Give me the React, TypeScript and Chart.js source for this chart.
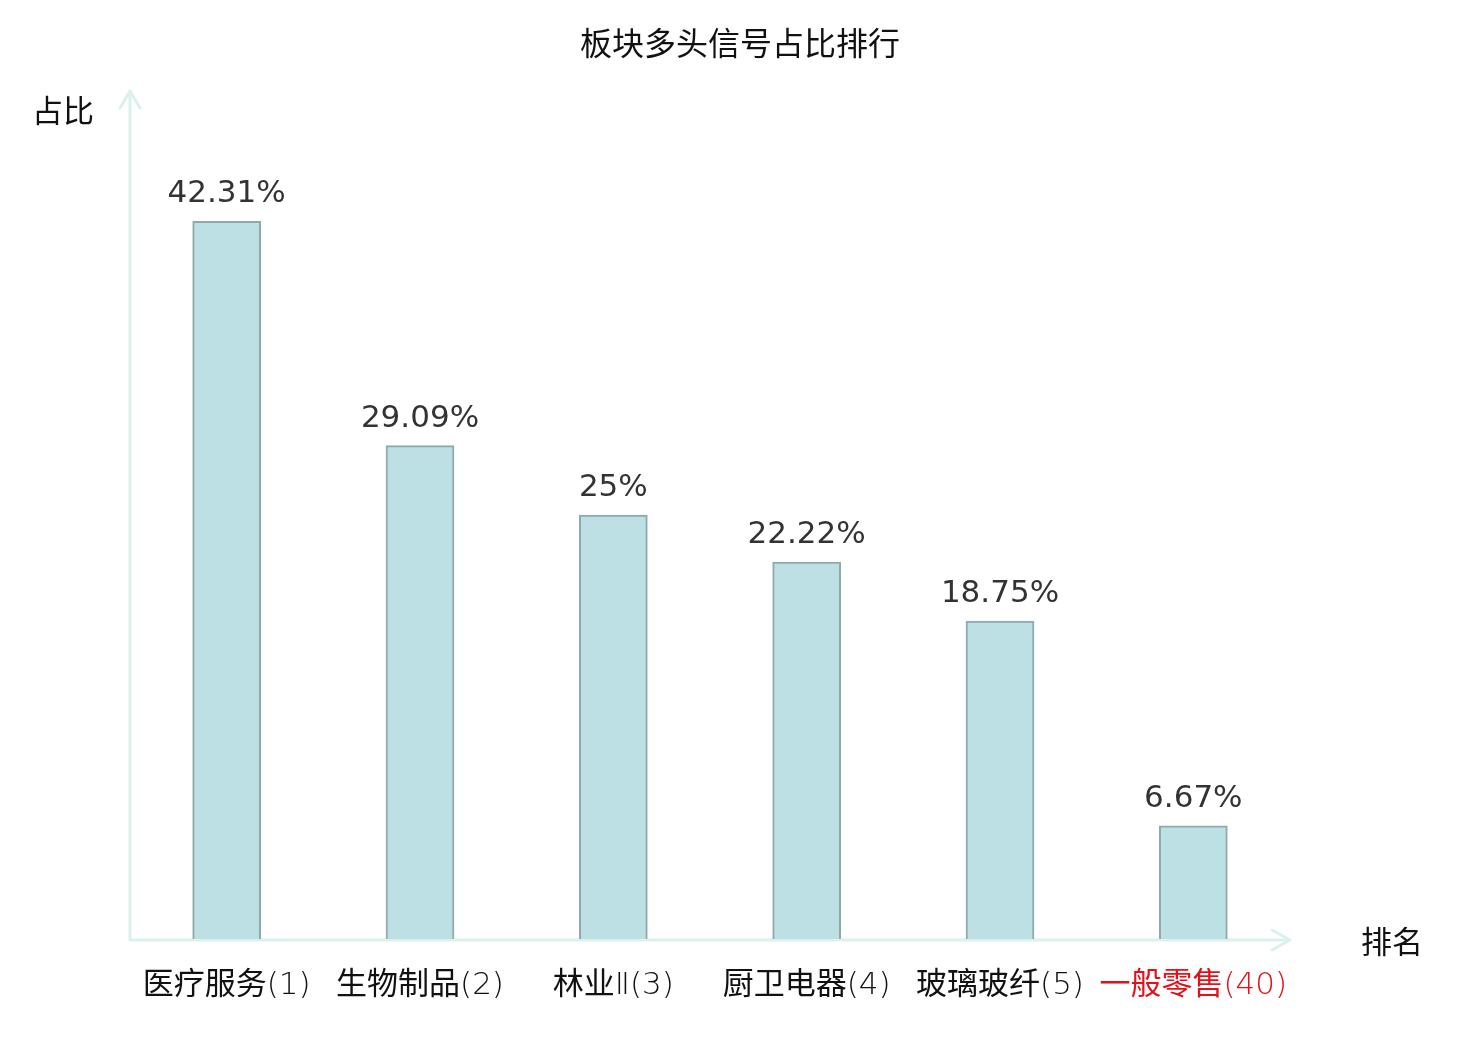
import React, { useEffect, useRef } from "react";
import { Chart, registerables } from "chart.js";

Chart.register(...registerables);

const TITLE = "板块多头信号占比排行";
const Y_NAME = "占比";
const X_NAME = "排名";
const categories = ["医疗服务(1)", "生物制品(2)", "林业Ⅱ(3)", "厨卫电器(4)", "玻璃玻纤(5)", "一般零售(40)"];
const values = [42.31, 29.09, 25, 22.22, 18.75, 6.67];
const valueLabels = ["42.31%", "29.09%", "25%", "22.22%", "18.75%", "6.67%"];
const highlighted = [false, false, false, false, false, true];
const Y_MIN = 0;
const Y_MAX = 50;

const AXIS_COLOR = "#dcf1ee";
const BAR_FILL = "#bce0e3";
const BAR_BORDER = "#8eaaaa";

const decorPlugin = {
  id: "decor",
  beforeDatasetsDraw(chart: any) {
    const { ctx, chartArea } = chart;
    const { left, right, top, bottom } = chartArea;
    ctx.save();
    ctx.strokeStyle = AXIS_COLOR;
    ctx.lineWidth = 3;
    ctx.lineCap = "round";
    ctx.lineJoin = "round";
    // y axis
    ctx.beginPath();
    ctx.moveTo(left, bottom + 1);
    ctx.lineTo(left, top);
    ctx.stroke();
    ctx.beginPath();
    ctx.moveTo(left - 10, top + 17);
    ctx.lineTo(left, top);
    ctx.lineTo(left + 10, top + 17);
    ctx.stroke();
    // x axis
    ctx.beginPath();
    ctx.moveTo(left, bottom + 1);
    ctx.lineTo(right, bottom + 1);
    ctx.stroke();
    ctx.beginPath();
    ctx.moveTo(right - 18, bottom + 1 - 10);
    ctx.lineTo(right, bottom + 1);
    ctx.lineTo(right - 18, bottom + 1 + 10);
    ctx.stroke();
    ctx.restore();
  },
  afterDraw(chart: any) {
    const { ctx, chartArea, width } = chart;
    const { left, right, top, bottom } = chartArea;
    ctx.save();
    ctx.fillStyle = "#111";
    ctx.textAlign = "center";
    ctx.textBaseline = "middle";
    // title, centred on the canvas
    ctx.font = '32px "Noto Sans CJK SC", sans-serif';
    ctx.fillText(TITLE, width / 2, 43);
    // axis names
    ctx.font = '31px "Noto Sans CJK SC", "DejaVu Sans", sans-serif';
    ctx.fillText(Y_NAME, left - 67, top + 19);
    ctx.fillText(X_NAME, right + 102, bottom + 2);
    // value labels
    const meta = chart.getDatasetMeta(0);
    ctx.fillStyle = "#333";
    ctx.font = '31px "DejaVu Sans", sans-serif';
    ctx.textBaseline = "alphabetic";
    meta.data.forEach((bar: any, i: number) => {
      ctx.fillText(valueLabels[i], bar.x, bar.y - 19);
    });
    ctx.restore();
  },
};

export default function App() {
  const ref = useRef<HTMLCanvasElement | null>(null);
  useEffect(() => {
    if (!ref.current) return;
    const chart = new Chart(ref.current, {
      type: "bar",
      data: {
        labels: categories,
        datasets: [
          {
            data: values,
            backgroundColor: BAR_FILL,
            borderColor: BAR_BORDER,
            borderWidth: 2,
            barThickness: 68,
          },
        ],
      },
      options: {
        responsive: false,
        animation: false,
        devicePixelRatio: 1,
        layout: { padding: { left: 130, right: 190, top: 91, bottom: 0 } },
        plugins: {
          legend: { display: false },
          tooltip: { enabled: false },
          title: { display: false },
        },
        scales: {
          y: { display: false, min: Y_MIN, max: Y_MAX },
          x: {
            display: true,
            grid: { display: false },
            border: { display: false },
            ticks: {
              padding: 20,
              maxRotation: 0,
              autoSkip: false,
              color: (c: any) => (highlighted[c.index] ? "#e3121a" : "#111"),
              font: { family: '"DejaVu Sans Light", "Noto Sans CJK SC", sans-serif', size: 31, weight: "normal" },
            },
            afterFit: (scale: any) => {
              scale.height = 101;
            },
          },
        },
      },
      plugins: [decorPlugin],
    });
    return () => chart.destroy();
  }, []);
  return (
    <canvas
      ref={ref}
      width={1480}
      height={1040}
      style={{ position: "absolute", left: 0, top: 0, width: 1480, height: 1040 }}
    />
  );
}
